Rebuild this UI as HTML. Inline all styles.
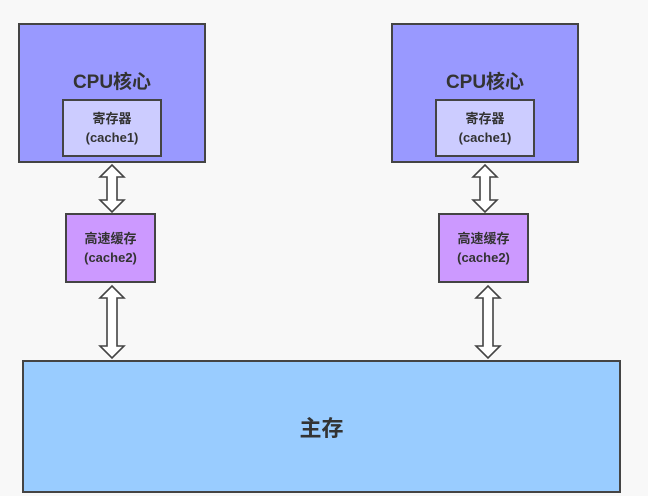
<!DOCTYPE html>
<html><head><meta charset="utf-8"><style>
body{margin:0;width:648px;height:496px;background:#f8f8f8;overflow:hidden;font-family:"Liberation Sans","Noto Sans CJK SC",sans-serif;}
.b{position:absolute;box-sizing:border-box;border:2px solid #444;display:flex;align-items:center;justify-content:center;text-align:center;color:#333;font-weight:bold;}
svg{position:absolute;left:0;top:0}
</style></head><body>
<div class="b" style="left:18px;top:23px;width:188px;height:140px;background:#9999ff;align-items:flex-start;padding-top:42px;font-size:19px;">CPU核心</div>
<div class="b" style="left:62px;top:99px;width:100px;height:58px;background:#ccccff;font-size:13px;line-height:19px;">寄存器<br>(cache1)</div>
<div class="b" style="left:391px;top:23px;width:188px;height:140px;background:#9999ff;align-items:flex-start;padding-top:42px;font-size:19px;">CPU核心</div>
<div class="b" style="left:435px;top:99px;width:100px;height:58px;background:#ccccff;font-size:13px;line-height:19px;">寄存器<br>(cache1)</div>
<div class="b" style="left:65px;top:213px;width:91px;height:70px;background:#cc99ff;font-size:13px;line-height:19px;">高速缓存<br>(cache2)</div>
<div class="b" style="left:438px;top:213px;width:91px;height:70px;background:#cc99ff;font-size:13px;line-height:19px;">高速缓存<br>(cache2)</div>
<div class="b" style="left:22px;top:360px;width:599px;height:133px;background:#99ccff;font-size:22px;">主存</div>
<svg width="648" height="496">
<g fill="#fff" stroke="#444" stroke-width="1.6" stroke-linejoin="miter">
<path d="M112 165 L124 177 L117 177 L117 200 L124 200 L112 212 L100 200 L107 200 L107 177 L100 177 Z"/>
<path d="M112 286 L124 298 L117 298 L117 346 L124 346 L112 358 L100 346 L107 346 L107 298 L100 298 Z"/>
<path d="M485 165 L497 177 L490 177 L490 200 L497 200 L485 212 L473 200 L480 200 L480 177 L473 177 Z"/>
<path d="M488 286 L500 298 L493 298 L493 346 L500 346 L488 358 L476 346 L483 346 L483 298 L476 298 Z"/>
</g></svg>
</body></html>
